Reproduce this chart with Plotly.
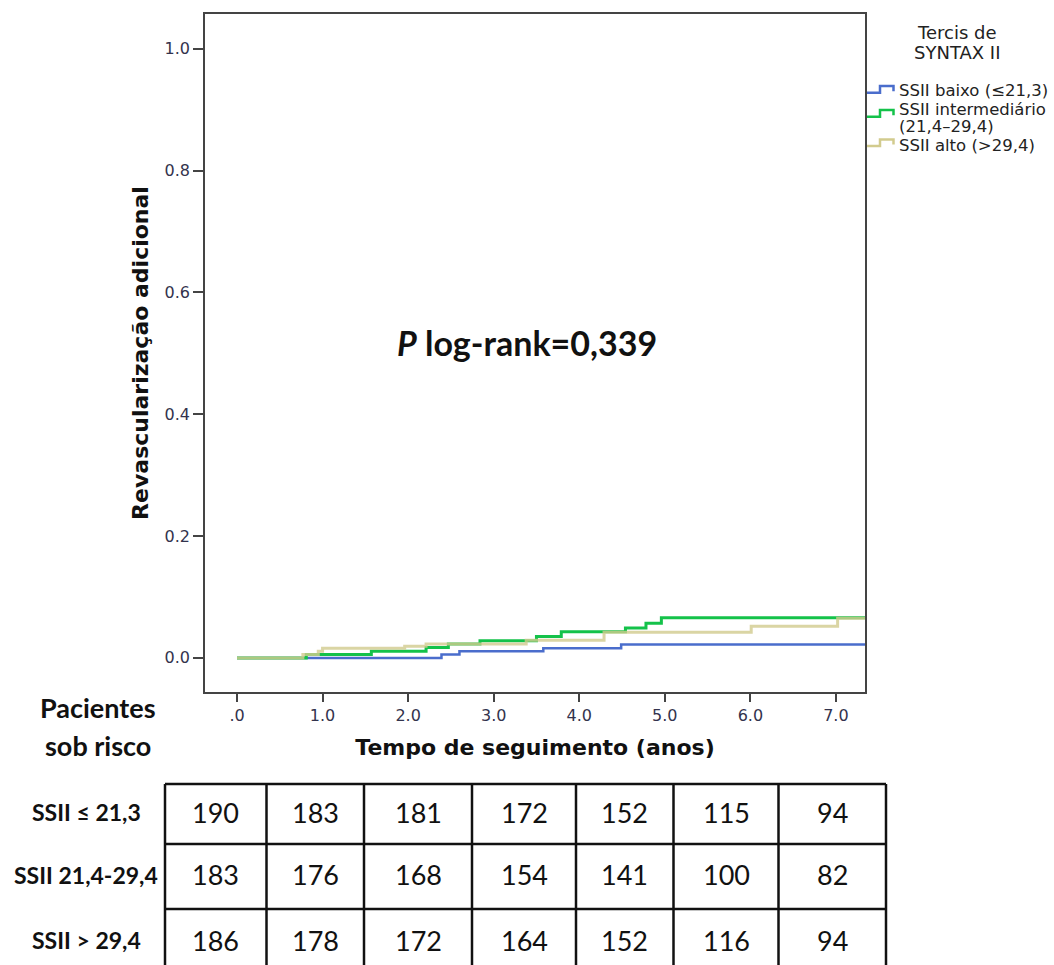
import plotly.graph_objects as go

# Cumulative incidence of additional revascularization by SYNTAX II tertile
low_t = [0, 2.39, 2.60, 3.58, 4.49, 7.34]
low_y = [0, 0.0055, 0.011, 0.016, 0.022, 0.022]

mid_t = [0, 0.81, 1.57, 2.21, 2.47, 2.84, 3.50, 3.79, 4.54, 4.78, 4.96, 7.34]
mid_y = [0, 0.0055, 0.011, 0.017, 0.023, 0.028, 0.035, 0.043, 0.049, 0.057, 0.066, 0.066]

high_t = [0, 0.77, 0.95, 1.00, 1.96, 2.21, 3.38, 4.29, 6.01, 7.02, 7.34]
high_y = [0, 0.0054, 0.011, 0.016, 0.019, 0.023, 0.029, 0.042, 0.052, 0.065, 0.065]

series_colors = ["#4a6dcc", "#14c24a", "#d2cb8e"]

x_ticks = [0, 1, 2, 3, 4, 5, 6, 7]
x_tick_labels = [".0", "1.0", "2.0", "3.0", "4.0", "5.0", "6.0", "7.0"]
y_ticks = [0.0, 0.2, 0.4, 0.6, 0.8, 1.0]
y_tick_labels = ["0.0", "0.2", "0.4", "0.6", "0.8", "1.0"]

risk_rows = ["SSII ≤ 21,3", "SSII 21,4-29,4", "SSII > 29,4"]
risk_low = [190, 183, 181, 172, 152, 115, 94]
risk_mid = [183, 176, 168, 154, 141, 100, 82]
risk_high = [186, 178, 172, 164, 152, 116, 94]

# page geometry (pixels) of the plotting area
W, H = 1054, 965
L, R, T, B = 205, 865, 14, 692


def px(x):
    return (x - L) / (R - L)


def py(y):
    return (B - y) / (B - T)


fig = go.Figure()
fig.add_trace(go.Scatter(x=low_t, y=low_y, mode="lines", line=dict(color=series_colors[0], width=2.5, shape="hv"),
                         showlegend=False))
fig.add_trace(go.Scatter(x=mid_t, y=mid_y, mode="lines", line=dict(color=series_colors[1], width=3, shape="hv"),
                         showlegend=False))
fig.add_trace(go.Scatter(x=high_t, y=high_y, mode="lines", line=dict(color=series_colors[2], width=3, shape="hv"),
                         opacity=0.8, showlegend=False))

axis_col = "#444444"
tick_font = dict(family="DejaVu Sans", size=16, color="#33334d")
title_font = dict(family="DejaVu Sans", size=22, color="#111111", weight=700)

fig.update_xaxes(range=[-0.374, 7.34], tickvals=x_ticks, ticktext=x_tick_labels,
                 showline=True, mirror=True, linecolor=axis_col, linewidth=1.5,
                 ticks="outside", ticklen=8, tickwidth=1.5, tickcolor=axis_col,
                 showgrid=False, zeroline=False, tickfont=tick_font,
                 title=dict(text="Tempo de seguimento (anos)", font=title_font, standoff=16))
fig.update_yaxes(range=[-0.056, 1.057], tickvals=y_ticks, ticktext=y_tick_labels,
                 showline=True, mirror=True, linecolor=axis_col, linewidth=1.5,
                 ticks="outside", ticklen=10, tickwidth=1.5, tickcolor=axis_col,
                 showgrid=False, zeroline=False, tickfont=tick_font,
                 title=dict(text="Revascularização adicional", font=title_font, standoff=10))

annotations = []
shapes = []

# log-rank p-value
annotations.append(dict(x=3.39, y=0.517, xref="x", yref="y", showarrow=False,
                        text="<i>P</i> log-rank=0,339",
                        font=dict(family="Lato", size=34, color="#111111", weight=700)))

# legend block
legend_font = dict(family="DejaVu Sans", size=16.5, color="#222222")
for txt, yy in [("Tercis de", 32), ("SYNTAX II", 53)]:
    annotations.append(dict(x=px(957), y=py(yy), xref="paper", yref="paper", showarrow=False,
                            text=txt, xanchor="center", yanchor="middle",
                            font=dict(family="DejaVu Sans", size=18, color="#222222")))

glyph_levels = [(92.7, 86.0), (116.7, 110.0), (146.0, 139.5)]
text_lines = [[("SSII baixo (≤21,3)", 90)], [("SSII intermediário", 109), ("(21,4–29,4)", 127)],
              [("SSII alto (>29,4)", 146)]]
for color, (lo, hi), lines in zip(series_colors, glyph_levels, text_lines):
    path = (f"M {px(867)} {py(lo)} L {px(880)} {py(lo)} L {px(880)} {py(hi)} "
            f"L {px(893.5)} {py(hi)} L {px(893.5)} {py(lo - 1.5)}")
    shapes.append(dict(type="path", xref="paper", yref="paper", path=path,
                       line=dict(color=color, width=2.5)))
    for txt, yy in lines:
        annotations.append(dict(x=px(897), y=py(yy), xref="paper", yref="paper", showarrow=False,
                                text=txt, xanchor="left", yanchor="middle", font=legend_font))

# number-at-risk table
for txt, yy in [("Pacientes", 708), ("sob risco", 745)]:
    annotations.append(dict(x=px(98), y=py(yy), xref="paper", yref="paper", showarrow=False,
                            text=txt, xanchor="center", yanchor="middle",
                            font=dict(family="Lato", size=27, color="#111111", weight=700)))

col_edges = [165, 266.5, 364, 472, 576, 673.5, 778.5, 886]
row_edges = [784, 844, 909, 972]
table_line = dict(color="#111111", width=2.5)
for xe in col_edges:
    shapes.append(dict(type="line", xref="paper", yref="paper", x0=px(xe), x1=px(xe),
                       y0=py(row_edges[0]), y1=py(row_edges[-1] + 20), line=table_line))
for ye in row_edges:
    shapes.append(dict(type="line", xref="paper", yref="paper", x0=px(col_edges[0]), x1=px(col_edges[-1]),
                       y0=py(ye), y1=py(ye), line=table_line))

for r, (label, values) in enumerate(zip(risk_rows, [risk_low, risk_mid, risk_high])):
    yc = (row_edges[r] + row_edges[r + 1]) / 2 - 2 if r < 2 else 940
    annotations.append(dict(x=px(86), y=py(yc), xref="paper", yref="paper", showarrow=False,
                            text=label, xanchor="center", yanchor="middle",
                            font=dict(family="Lato", size=23, color="#111111", weight=700)))
    for c, v in enumerate(values):
        xc = (col_edges[c] + col_edges[c + 1]) / 2
        annotations.append(dict(x=px(xc), y=py(yc), xref="paper", yref="paper", showarrow=False,
                                text=str(v), xanchor="center", yanchor="middle",
                                font=dict(family="Lato", size=27, color="#111111")))

fig.update_layout(width=W, height=H, margin=dict(l=L, r=W - R, t=T, b=H - B),
                  paper_bgcolor="white", plot_bgcolor="white",
                  annotations=annotations, shapes=shapes, showlegend=False)

fig.write_html("out.html")
